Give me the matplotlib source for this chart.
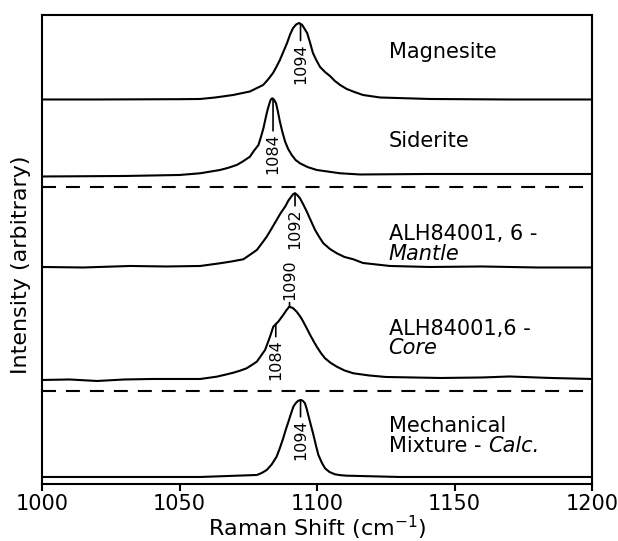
import matplotlib.pyplot as plt
import numpy as np

plt.rcParams['font.family'] = 'DejaVu Sans'

# traces: raman shift (cm-1) and intensity above each baseline
mag_x = [1000, 1020, 1040, 1050, 1057.5, 1063, 1069.5, 1075.6, 1080.4, 1082.2, 1084.0, 1085.2,
         1086.5, 1087.8, 1089.1, 1090.2, 1091.3, 1092.4, 1093.5, 1094.6, 1095.5, 1096.4, 1097.5,
         1098.5, 1099.8, 1101.1, 1102.9, 1104.7, 1106.5, 1108.4, 1110.8, 1113.1, 1116.7, 1122.9,
         1141, 1170, 1200]
mag_y = [0, 0, 0.2, 0.3, 0.5, 2, 4.5, 8, 14.5, 20, 26.5, 32.5,
         39.5, 48, 56.5, 65, 71.5, 75, 76.5, 74.5, 70.5, 66.5, 56.5,
         46.5, 39, 32.5, 27.5, 23.5, 18.5, 14.5, 10.5, 8, 4.5, 2,
         0.5, 0, 0]

sid_x = [1000, 1030, 1050, 1057.5, 1064.7, 1067.5, 1070.8, 1073, 1075.6, 1077, 1078.7, 1079.6,
         1080.5, 1081.7, 1082.3, 1082.9, 1083.2, 1083.7, 1084.3, 1085.1, 1085.8, 1086.5, 1087.4,
         1088.4, 1089.5, 1090.8, 1092.2, 1093.8, 1096.5, 1099.9, 1108.4, 1115.6, 1140, 1170, 1200]
sid_y = [-1.5, -1, 0, 1.7, 5, 7, 10, 13.5, 18.3, 24, 30, 38,
         46.7, 61.7, 68, 73.3, 75.5, 76.7, 75.5, 71.7, 63, 53.3, 43,
         33.3, 26, 20, 15, 11.7, 8, 5, 1.7, 0.5, 1, 1, 1]

man_x = [1000, 1015, 1032, 1045, 1057.5, 1064.7, 1068.9, 1073.2, 1075.5, 1078.1, 1079.9, 1081.7,
         1083.5, 1085.3, 1086.8, 1088.4, 1089.6, 1090.8, 1091.4, 1092, 1092.8, 1093.8, 1095,
         1096.3, 1097.8, 1099.3, 1100.8, 1102.3, 1104.7, 1107.2, 1110, 1113.2, 1116.7, 1126.5,
         1141, 1160, 1180, 1200]
man_y = [0, -0.5, 1, 0.5, 1, 3.7, 5.5, 7.7, 12, 17, 23.5, 30.3,
         38.5, 47, 54, 60.3, 66.5, 71, 73, 73.7, 72, 68.7, 62.5,
         55.3, 46, 37, 30, 23.7, 18, 13.7, 10, 7.7, 4, 1,
         0, 0.5, -0.5, -0.5]

core_x = [1000, 1010, 1020, 1030, 1040, 1057.5, 1063.5, 1066.5, 1069.6, 1072, 1074.4, 1076,
          1078.1, 1081.1, 1082.9, 1084.1, 1085.9, 1087.7, 1088.8, 1089.9, 1091.2, 1092.6, 1094,
          1095, 1096.2, 1097.5, 1098.7, 1099.9, 1101.4, 1102.9, 1105, 1107.2, 1110, 1113.2,
          1119, 1125, 1145, 1160, 1170, 1185, 1200]
core_y = [-1, -0.5, -2, -0.5, 0, 0, 2.3, 4.2, 6.3, 8.3, 10.7, 13.5,
          17.3, 29, 42.3, 52.3, 57.3, 64, 68.5, 72.3, 71, 67.3, 62,
          57.3, 51, 44, 38, 32.3, 26, 20.7, 16, 12.3, 8.5, 5.7,
          3.5, 2, 1, 1.5, 2.5, 1, 0]

mix_x = [1000, 1057.5, 1078.1, 1079.9, 1081.7, 1083.5, 1085.3, 1086.5, 1087.7, 1088.6, 1089.6,
         1090.5, 1091.4, 1092.3, 1093.2, 1094.2, 1094.9, 1095.6, 1096.2, 1096.8, 1097.7, 1098.7,
         1099.6, 1100.5, 1101.7, 1102.9, 1104.5, 1106.5, 1108.5, 1110.8, 1130, 1200]
mix_y = [0, 0, 2, 4, 7, 12.5, 20.3, 29, 38.7, 47, 55.3,
         63, 70.3, 74, 76.3, 77, 76, 73.7, 68.5, 62, 52.5, 42,
         31.5, 22, 14.5, 8.7, 5, 2.7, 1.8, 1.3, 0, 0]

traces = [(mag_x, mag_y), (sid_x, sid_y), (man_x, man_y), (core_x, core_y), (mix_x, mix_y)]
offsets = [384.5, 309, 217, 105, 7]
dashed_y = [296.5, 93]

# peak labels: (trace index, label, wavenumber of mark, text offset in points; negative = below)
peak_marks = [(0, '1094', 1094, -14), (1, '1084', 1084, -25), (2, '1092', 1092, -11),
              (3, '1090', 1090, 5), (3, '1084', 1085, -11), (4, '1094', 1094, -14)]

fig = plt.figure(figsize=(6.18, 5.41), dpi=100)
ax = fig.add_axes([0.068, 0.1054, 0.890, 0.8669])

for (x, y), off in zip(traces, offsets):
    ax.plot(x, np.array(y) + off, color='k', lw=1.5)

for yy in dashed_y:
    ax.axhline(yy, color='k', lw=1.5, linestyle=(0, (6.7, 4.8)))

for i, lbl, wn, dy in peak_marks:
    x, y = traces[i]
    yp = np.interp(wn, x, y) + offsets[i]
    ax.annotate(lbl, xy=(wn, yp), xytext=(0, dy), textcoords='offset points',
                rotation=90, ha='center', va='top' if dy < 0 else 'bottom',
                fontsize=11.5,
                arrowprops=dict(arrowstyle='-', lw=1.2, color='k', shrinkA=0, shrinkB=0))

fs = 15
lx = 1126
ax.text(lx, 426, 'Magnesite', fontsize=fs, va='baseline')
ax.text(lx, 337, 'Siderite', fontsize=fs, va='baseline')
ax.text(lx, 244, 'ALH84001, 6 -', fontsize=fs, va='baseline')
ax.text(lx, 224, 'Mantle', fontsize=fs, va='baseline', style='italic')
ax.text(lx, 149, 'ALH84001,6 -', fontsize=fs, va='baseline')
ax.text(lx, 130, 'Core', fontsize=fs, va='baseline', style='italic')
ax.text(lx, 52, 'Mechanical', fontsize=fs, va='baseline')
t = ax.text(lx, 32, 'Mixture - ', fontsize=fs, va='baseline')
ax.annotate('Calc.', xy=(1, 0), xycoords=t, va='bottom', ha='left',
            fontsize=fs, style='italic')

ax.set_xlim(1000, 1200)
ax.set_ylim(0, 469)
ax.set_xticks([1000, 1050, 1100, 1150, 1200])
ax.set_yticks([])
ax.tick_params(axis='x', direction='out', length=5, width=1.5, labelsize=15, pad=2)
for s in ax.spines.values():
    s.set_linewidth(1.5)

ax.set_xlabel('Raman Shift (cm$^{-1}$)', fontsize=16, labelpad=0)
ax.set_ylabel('Intensity (arbitrary)', fontsize=16)
ax.yaxis.set_label_coords(-0.02, 0.467)

fig.savefig('out.png', dpi=100)
